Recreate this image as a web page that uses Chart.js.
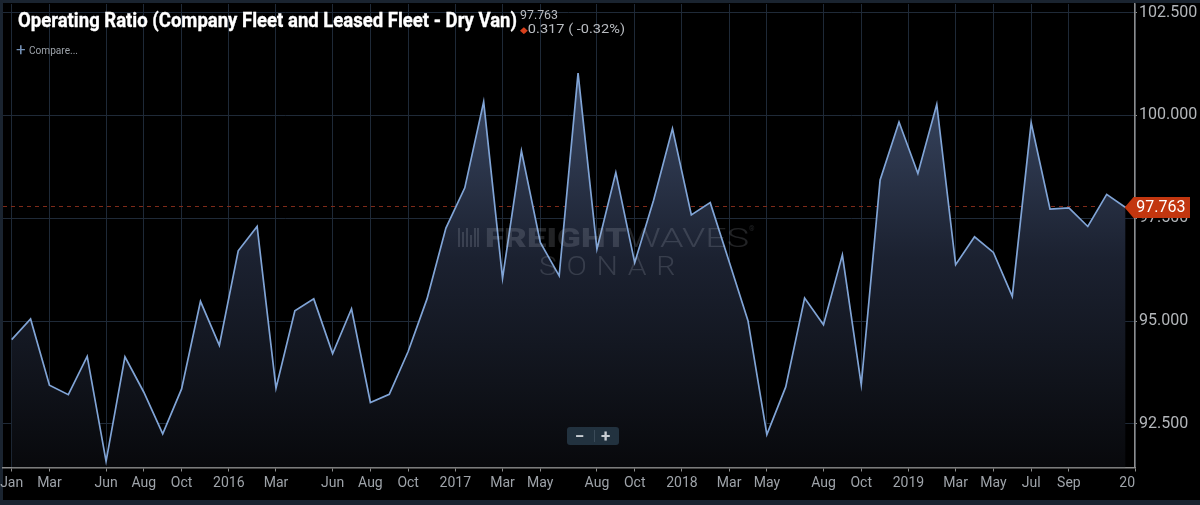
<!DOCTYPE html>
<html>
<head>
<meta charset="utf-8">
<script src="https://cdn.jsdelivr.net/npm/chart.js@4.4.1/dist/chart.umd.min.js"></script>
<style>
html,body{margin:0;padding:0;background:#1a2430;width:1200px;height:505px;overflow:hidden;}
#wrap{position:relative;width:1200px;height:505px;}
#c{position:absolute;left:0;top:0;}
.ov{position:absolute;white-space:nowrap;font-family:Roboto,sans-serif;transform-origin:0 0;pointer-events:none;}
#title{left:18px;top:10.2px;font-size:21px;line-height:21px;font-weight:700;color:#ffffff;-webkit-text-stroke:0.35px #ffffff;}
#last{left:520px;top:8.4px;font-size:13px;line-height:13px;color:#b9bcc1;}
#chg{left:520px;top:22.4px;font-size:13px;line-height:13px;color:#b9bcc1;}
#chg .d{color:#d8401c;font-size:9px;}
#plus{left:16px;top:41px;font-size:17px;line-height:17px;color:#7592b8;}
#cmp{left:29px;top:45px;font-size:11px;line-height:11px;color:#9da3aa;}
.wm{color:rgba(200,205,220,0.17);}
#wm1{left:485px;top:224.5px;font-size:26.7px;line-height:26.7px;font-weight:900;}
#wm2{left:627px;top:224.5px;font-size:26.7px;line-height:26.7px;font-weight:300;}
#wm3{left:539px;top:254px;font-size:25px;line-height:25px;font-weight:300;letter-spacing:8px;}
#wmr{left:749px;top:226px;font-size:7px;line-height:7px;}
#logo{position:absolute;left:458px;top:228px;width:21px;height:19px;pointer-events:none;}
#logo i{position:absolute;bottom:0;width:2px;background:rgba(200,205,220,0.17);}
#zoom{position:absolute;left:567px;top:427px;width:52px;height:18px;background:#22323f;border-radius:3px;pointer-events:none;}
#zoom .sep{position:absolute;left:27px;top:3px;width:1px;height:12px;background:#3b4b59;}
#zoom span{position:absolute;top:0;font-family:Roboto,sans-serif;font-weight:700;font-size:17px;line-height:18px;color:#c9ced3;}
</style>
</head>
<body>
<div id="wrap">
<canvas id="c" width="1200" height="505"></canvas>
<div class="ov" id="title">Operating Ratio (Company Fleet and Leased Fleet - Dry Van)</div>
<div class="ov" id="last">97.763</div>
<div class="ov" id="chg"><span class="d">&#9670;</span>0.317 ( -0.32%)</div>
<div class="ov" id="plus">+</div>
<div class="ov" id="cmp">Compare...</div>
<div id="logo"><i style="left:0;height:19px"></i><i style="left:4px;height:15px"></i><i style="left:8px;height:19px"></i><i style="left:12px;height:12px"></i><i style="left:16px;height:19px"></i><i style="left:19px;height:19px"></i></div>
<div class="ov wm" id="wm1">FREIGHT</div>
<div class="ov wm" id="wm2">WAVES</div>
<div class="ov wm" id="wmr">&#174;</div>
<div class="ov wm" id="wm3">SONAR</div>
<div id="zoom"><span style="left:8px">&#8722;</span><div class="sep"></div><span style="left:34px">+</span></div>
</div>
<script>
// ---- data ----
const months = [
 '2015-01','2015-02','2015-03','2015-04','2015-05','2015-06','2015-07','2015-08','2015-09','2015-10','2015-11','2015-12',
 '2016-01','2016-02','2016-03','2016-04','2016-05','2016-06','2016-07','2016-08','2016-09','2016-10','2016-11','2016-12',
 '2017-01','2017-02','2017-03','2017-04','2017-05','2017-06','2017-07','2017-08','2017-09','2017-10','2017-11','2017-12',
 '2018-01','2018-02','2018-03','2018-04','2018-05','2018-06','2018-07','2018-08','2018-09','2018-10','2018-11','2018-12',
 '2019-01','2019-02','2019-03','2019-04','2019-05','2019-06','2019-07','2019-08','2019-09','2019-10','2019-11','2019-12'
];
const operatingRatio = [
 94.55, 95.05, 93.44, 93.21, 94.14, 91.59, 94.13, 93.27, 92.26, 93.35, 95.48, 94.41,
 96.71, 97.30, 93.37, 95.25, 95.54, 94.21, 95.30, 93.02, 93.22, 94.26, 95.54, 97.26,
 98.24, 100.33, 96.04, 99.14, 96.91, 96.10, 101.03, 96.75, 98.61, 96.42, 97.94, 99.68,
 97.58, 97.88, 96.45, 95.01, 92.24, 93.40, 95.56, 94.91, 96.61, 93.45, 98.43, 99.84,
 98.59, 100.27, 96.37, 97.05, 96.67, 95.60, 99.82, 97.72, 97.75, 97.30, 98.08, 97.763
];
const xTickPos  = [0, 2, 5, 7, 9, 11.5, 14, 17, 19, 21, 23.5, 26, 28, 31, 33, 35.5, 38, 40, 43, 45, 47.5, 50, 52, 54, 56, 59.5];
const xTickText = ['Jan','Mar','Jun','Aug','Oct','2016','Mar','Jun','Aug','Oct','2017','Mar','May','Aug','Oct','2018','Mar','May','Aug','Oct','2019','Mar','May','Jul','Sep','2020'];
const yTickVals = [92.5, 95, 97.5, 100, 102.5];
const lastValue = operatingRatio[operatingRatio.length - 1];

// ---- overlay text fitting ----
function fit(id, w){
  const el = document.getElementById(id);
  const cw = el.getBoundingClientRect().width;
  if (cw > 0) el.style.transform = 'scaleX(' + (w / cw) + ')';
}
fit('title', 499);
fit('last', 38);
fit('chg', 105);
fit('cmp', 49);
fit('wm1', 142);
fit('wm2', 122);
fit('wm3', 146);

const framePlugin = {
  id: 'frame',
  beforeDraw(chart){
    const c = chart.ctx;
    c.save();
    c.fillStyle = '#1a2430';
    c.fillRect(0, 0, chart.width, chart.height);
    c.fillStyle = '#000000';
    c.fillRect(3, 3, chart.width - 3, chart.height - 8);
    c.restore();
    const s = chart.scales.x;
    if (s && !s._clipPatched){
      const orig = s.drawLabels;
      s.drawLabels = function(area){
        const cx = this.ctx;
        cx.save();
        cx.beginPath();
        cx.rect(0, 0, chart.chartArea.right, chart.height);
        cx.clip();
        orig.call(this, area);
        cx.restore();
      };
      s._clipPatched = true;
    }
  },
  beforeDatasetsDraw(chart){
    const c = chart.ctx, a = chart.chartArea;
    const y = chart.scales.y.getPixelForValue(lastValue);
    const xe = chart.scales.x.getPixelForValue(operatingRatio.length - 1);
    c.save();
    c.strokeStyle = '#7e2a19';
    c.lineWidth = 1;
    c.setLineDash([4, 4]);
    c.beginPath();
    c.moveTo(a.left, Math.round(y) - 0.5);
    c.lineTo(xe, Math.round(y) - 0.5);
    c.stroke();
    c.restore();
  },
  afterDraw(chart){
    const c = chart.ctx;
    const y = chart.scales.y.getPixelForValue(lastValue);
    const xe = chart.scales.x.getPixelForValue(operatingRatio.length - 1);
    const tip = xe - 1, bx = tip + 9, right = 1190, h = 10.5;
    c.save();
    c.fillStyle = '#c2360f';
    c.beginPath();
    c.moveTo(tip, y);
    c.lineTo(bx, y - h);
    c.lineTo(right, y - h);
    c.lineTo(right, y + h);
    c.lineTo(bx, y + h);
    c.closePath();
    c.fill();
    c.fillStyle = '#ffffff';
    c.font = '16px Roboto';
    c.textAlign = 'center';
    c.textBaseline = 'middle';
    c.fillText(lastValue.toFixed(3), (bx + right) / 2 - 1, y + 0.5);
    c.restore();
  }
};

new Chart(document.getElementById('c'), {
  type: 'line',
  data: {
    labels: months,
    datasets: [{
      label: 'Operating Ratio',
      data: operatingRatio.map((v, i) => ({x: i, y: v})),
      borderColor: '#80a4d6',
      borderWidth: 1.7,
      pointRadius: 0,
      tension: 0,
      fill: 'start',
      backgroundColor: (ctx) => {
        const a = ctx.chart.chartArea;
        if (!a) return 'rgba(40,50,70,0.6)';
        const g = ctx.chart.ctx.createLinearGradient(0, a.top, 0, a.bottom);
        g.addColorStop(0, '#4a5a7a');
        g.addColorStop(0.2, '#37445e');
        g.addColorStop(0.55, '#1b2130');
        g.addColorStop(1, '#08090c');
        return g;
      }
    }]
  },
  options: {
    responsive: false,
    animation: false,
    devicePixelRatio: 1,
    layout: {padding: {left: 3, top: 4, right: 0, bottom: 0}},
    plugins: {legend: {display: false}, tooltip: {enabled: false}, title: {display: false}},
    scales: {
      x: {
        type: 'linear',
        min: -0.46,
        max: 59.5,
        afterBuildTicks: (s) => { s.ticks = xTickPos.map(v => ({value: v})); },
        afterFit: (s) => { s.height = 37.5; s.paddingLeft = 0; s.paddingRight = 0; },
        ticks: {
          autoSkip: false, maxRotation: 0, minRotation: 0,
          color: '#9ea3a9', padding: 4,
          font: {family: 'Roboto', size: 14},
          callback: (v, i) => xTickText[i]
        },
        grid: {color: '#1e2937', lineWidth: 1, tickColor: '#8c8c8c', tickLength: 4},
        border: {color: '#8c8c8c', width: 1.5}
      },
      y: {
        position: 'right',
        min: 91.44,
        max: 102.71,
        afterBuildTicks: (s) => { s.ticks = yTickVals.map(v => ({value: v})); },
        afterFit: (s) => { s.width = 65; s.paddingTop = 0; s.paddingBottom = 0; },
        ticks: {
          color: '#b3b6ba', padding: 2,
          font: {family: 'Roboto', size: 16},
          callback: (v) => Number(v).toFixed(3)
        },
        grid: {color: '#1f2a38', lineWidth: 1, tickColor: '#8c8c8c', tickLength: 2},
        border: {color: '#8c8c8c', width: 1.5}
      }
    }
  },
  plugins: [framePlugin]
});
</script>
</body>
</html>
